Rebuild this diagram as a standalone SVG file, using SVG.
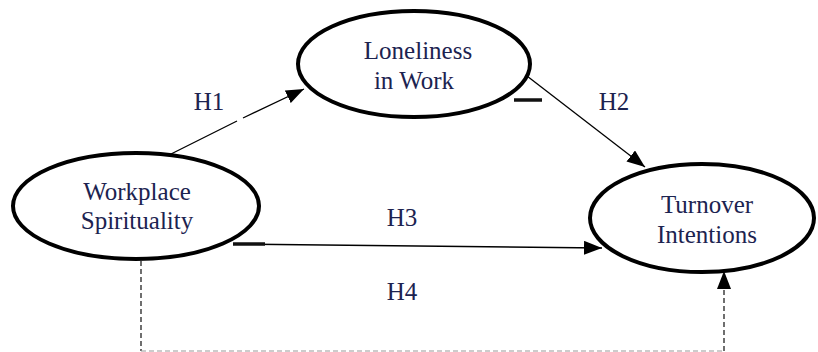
<svg xmlns="http://www.w3.org/2000/svg" width="818" height="352" viewBox="0 0 818 352">
<style>
.node{fill:#fff;stroke:#000;stroke-width:4}
.lbl{font-family:"Liberation Serif","Times New Roman",serif;font-size:25px;fill:#1c2350;text-anchor:middle}
.edge{stroke:#000;stroke-width:1.3;fill:none}
.neg{stroke:#111;stroke-width:3.5}
.dash{stroke:#222;stroke-width:1.3;fill:none;stroke-dasharray:5,3}
.dashlight{stroke:#999;stroke-width:1;fill:none;stroke-dasharray:5,3}
</style>
<defs>
<marker id="arr" viewBox="0 0 10 10" refX="10" refY="5" markerWidth="18" markerHeight="14" markerUnits="userSpaceOnUse" orient="auto" preserveAspectRatio="none">
<path d="M0,0 L10,5 L0,10 z" fill="#000"/>
</marker>
</defs>
<g id="connectors">
<path class="edge" d="M171,154 L237,121 M243,118 L304,89" marker-end="url(#arr)"/>
<line class="edge" x1="527" y1="76" x2="645" y2="167" marker-end="url(#arr)"/>
<line class="edge" x1="233" y1="244" x2="602" y2="248" marker-end="url(#arr)"/>
<line class="neg" x1="514" y1="100" x2="542" y2="100"/>
<line class="neg" x1="233" y1="244" x2="265" y2="244"/>
<path class="dash" d="M141,261 L141,351"/>
<path class="dashlight" d="M141,351 L724,351"/>
<path class="dash" d="M724,351 L724,271" marker-end="url(#arr)"/>
<text class="lbl" x="209" y="110">H1</text>
<text class="lbl" x="614" y="110">H2</text>
<text class="lbl" x="402" y="226">H3</text>
<text class="lbl" x="402" y="300">H4</text>
</g>
<g id="workplace">
<ellipse class="node" cx="136" cy="206" rx="123" ry="53"/>
<text class="lbl" x="137" y="200">Workplace</text>
<text class="lbl" x="137" y="229">Spirituality</text>
</g>
<g id="loneliness">
<ellipse class="node" cx="414" cy="64" rx="116" ry="53"/>
<text class="lbl" x="418" y="59">Loneliness</text>
<text class="lbl" x="414" y="89">in Work</text>
</g>
<g id="turnover">
<ellipse class="node" cx="702" cy="218" rx="112" ry="54"/>
<text class="lbl" x="707" y="213">Turnover</text>
<text class="lbl" x="707" y="243">Intentions</text>
</g>
</svg>
